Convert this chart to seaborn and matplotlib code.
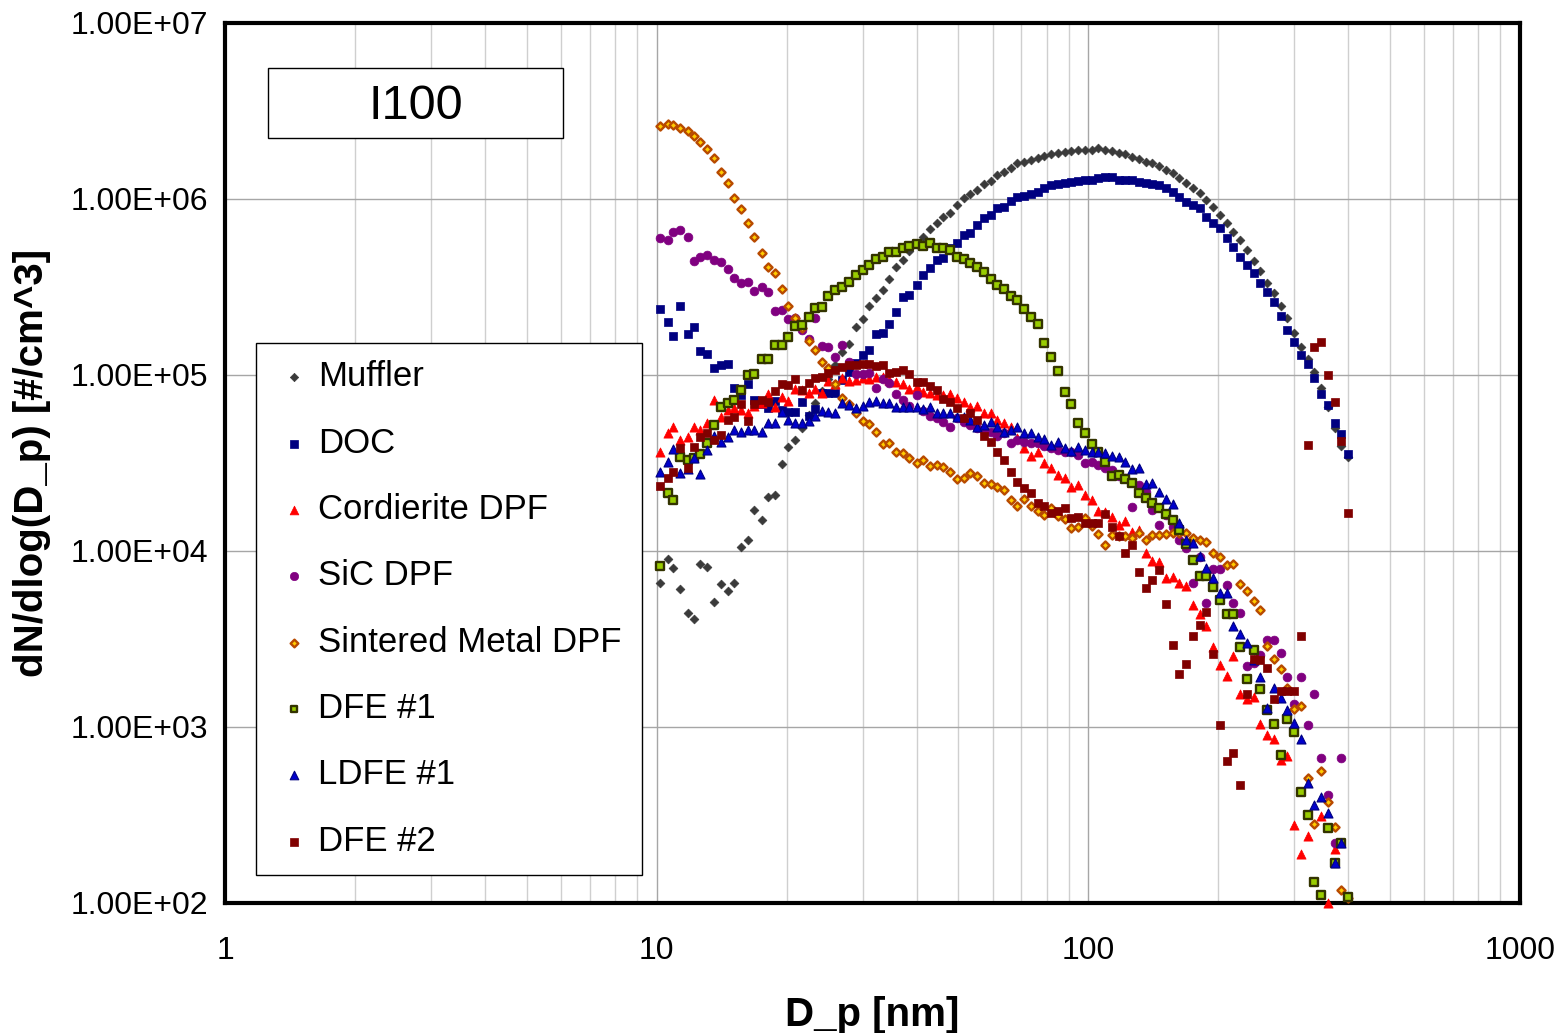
import numpy as np
import pandas as pd
import matplotlib
matplotlib.use("Agg")
import matplotlib.pyplot as plt
import seaborn as sns
from matplotlib.ticker import FixedLocator, FixedFormatter, LogLocator, NullFormatter, NullLocator
from matplotlib.patches import Rectangle

nan = np.nan

# Particle mobility diameter bins [nm]
diameters = [10.2, 10.6, 10.9, 11.3, 11.8, 12.2, 12.6, 13.1, 13.6, 14.1,
             14.6, 15.1, 15.7, 16.3, 16.8, 17.5, 18.1, 18.8, 19.5, 20.2,
             20.9, 21.7, 22.5, 23.3, 24.1, 25.0, 25.9, 26.9, 27.9, 28.9,
             30.0, 31.1, 32.2, 33.4, 34.6, 35.9, 37.2, 38.5, 40.0, 41.4,
             42.9, 44.5, 46.1, 47.8, 49.6, 51.4, 53.3, 55.2, 57.3, 59.4,
             61.5, 63.8, 66.1, 68.5, 71.0, 73.7, 76.4, 79.1, 82.0, 85.1,
             88.2, 91.4, 94.7, 98.2, 101.8, 105.5, 109.4, 113.4, 117.6, 121.9,
             126.3, 131.0, 135.8, 140.7, 145.9, 151.2, 156.8, 162.5, 168.5, 174.7,
             181.1, 187.7, 194.6, 201.7, 209.1, 216.7, 224.7, 232.9, 241.4, 250.3,
             259.5, 269.0, 278.8, 289.0, 299.6, 310.6, 322.0, 333.8, 346.0, 358.7,
             371.8, 385.4, 399.5]

muffler = [6.6e3, 9.0e3, 8.0e3, 6.1e3, 4.46e3, 4.12e3, 8.4e3, 8.1e3, 5.1e3, 6.5e3,
           5.9e3, 6.6e3, 1.05e4, 1.16e4, 1.71e4, 1.51e4, 2.03e4, 2.08e4, 3.11e4, 3.92e4,
           4.28e4, 5.0e4, 5.9e4, 6.9e4, 8.1e4, 9.5e4, 1.14e5, 1.35e5, 1.51e5, 1.88e5,
           2.07e5, 2.47e5, 2.73e5, 3.04e5, 3.5e5, 4.1e5, 4.5e5, 5.07e5, 5.55e5, 6.05e5,
           6.73e5, 7.33e5, 7.94e5, 8.36e5, 9.25e5, 1.01e6, 1.07e6, 1.12e6, 1.22e6, 1.27e6,
           1.37e6, 1.43e6, 1.51e6, 1.6e6, 1.63e6, 1.67e6, 1.7e6, 1.76e6, 1.8e6, 1.83e6,
           1.86e6, 1.88e6, 1.9e6, 1.91e6, 1.91e6, 1.94e6, 1.91e6, 1.88e6, 1.83e6, 1.8e6,
           1.74e6, 1.68e6, 1.63e6, 1.6e6, 1.53e6, 1.46e6, 1.4e6, 1.31e6, 1.23e6, 1.15e6,
           1.08e6, 9.86e5, 9.0e5, 8.1e5, 7.3e5, 6.5e5, 5.85e5, 5.13e5, 4.46e5, 3.91e5,
           3.34e5, 2.94e5, 2.47e5, 2.1e5, 1.74e5, 1.45e5, 1.23e5, 1.04e5, 8.4e4, 6.6e4,
           4.98e4, 3.95e4, 3.4e4]

doc = [2.37e5, 2.01e5, 1.67e5, 2.47e5, 1.7e5, 1.88e5, 1.37e5, 1.32e5, 1.09e5, 1.14e5,
       1.16e5, 8.4e4, 7.7e4, 8.9e4, 7.2e4, 6.8e4, 6.5e4, 7.1e4, 6.3e4, 6.2e4,
       6.2e4, 7.05e4, 5.85e4, 6.4e4, 7.9e4, 7.9e4, 7.9e4, 9.4e4, 1.04e5, 1.17e5,
       1.3e5, 1.39e5, 1.71e5, 1.74e5, 1.95e5, 2.29e5, 2.76e5, 2.85e5, 3.25e5, 3.7e5,
       4.04e5, 4.5e5, 4.6e5, 5.25e5, 5.6e5, 6.24e5, 6.43e5, 7.1e5, 7.76e5, 8.1e5,
       8.85e5, 9.0e5, 9.8e5, 1.03e6, 1.04e6, 1.07e6, 1.1e6, 1.16e6, 1.2e6, 1.22e6,
       1.23e6, 1.25e6, 1.27e6, 1.28e6, 1.29e6, 1.31e6, 1.34e6, 1.33e6, 1.29e6, 1.28e6,
       1.28e6, 1.25e6, 1.23e6, 1.22e6, 1.2e6, 1.15e6, 1.1e6, 1.03e6, 9.66e5, 9.25e5,
       8.85e5, 7.9e5, 7.33e5, 6.8e5, 5.98e5, 5.32e5, 4.66e5, 4.22e5, 3.81e5, 3.34e5,
       2.95e5, 2.61e5, 2.17e5, 1.8e5, 1.55e5, 1.3e5, 1.16e5, 9.6e4, 7.8e4, 6.75e4,
       5.36e4, 4.62e4, 3.56e4]

cordierite_dpf = [3.67e4, 4.7e4, 5.08e4, 4.28e4, 4.46e4, 5.05e4, 4.87e4, 5.36e4, 7.2e4, 5.75e4,
                  6.3e4, 6.47e4, 6.3e4, 6.05e4, 6.67e4, 6.9e4, 7.8e4, 6.55e4, 7.53e4, 7.15e4,
                  8.28e4, 8.2e4, 7.94e4, 8.3e4, 7.94e4, 9.3e4, 8.9e4, 9.58e4, 9.3e4, 9.4e4,
                  9.58e4, 9.46e4, 9.78e4, 9.7e4, 9.4e4, 9.16e4, 8.9e4, 8.3e4, 8.5e4, 8.04e4,
                  7.9e4, 7.7e4, 7.7e4, 7.8e4, 7.38e4, 7.05e4, 6.6e4, 6.67e4, 6.1e4, 6.1e4,
                  5.55e4, 5.32e4, 5.08e4, 4.39e4, 3.84e4, 3.45e4, 3.64e4, 3.18e4, 2.95e4, 2.7e4,
                  2.59e4, 2.3e4, 2.37e4, 2.08e4, 1.96e4, 1.68e4, 1.67e4, 1.56e4, 1.4e4, 1.49e4,
                  1.28e4, 1.32e4, 9.7e3, 8.8e3, 8.7e3, 7.0e3, 7.1e3, 6.55e3, 6.3e3, 4.93e3,
                  4.38e3, 3.75e3, 2.85e3, 2.25e3, 1.95e3, 2.52e3, 1.55e3, 1.44e3, 1.48e3, 1.04e3,
                  901, 851, 650, 684, 277, 190, 240, nan, 311, 100,
                  203, nan, nan]

sic_dpf = [6.03e5, 5.85e5, 6.52e5, 6.67e5, 6.05e5, 4.46e5, 4.7e5, 4.79e5, 4.5e5, 4.4e5,
           4.02e5, 3.54e5, 3.32e5, 3.36e5, 3.0e5, 3.18e5, 2.97e5, 2.32e5, 2.34e5, 2.09e5,
           2.11e5, 1.8e5, 1.61e5, 2.12e5, 1.47e5, 1.44e5, 1.27e5, 1.48e5, 1.19e5, 1.01e5,
           1.01e5, 1.03e5, 8.4e4, 9.46e4, 8.97e4, 7.75e4, 7.2e4, 6.67e4, 7.65e4, 6.22e4,
           5.85e4, 5.7e4, 5.4e4, 5.04e4, 5.68e4, 5.4e4, 5.2e4, 5.0e4, 4.9e4, 4.75e4,
           4.5e4, 4.67e4, 4.09e4, 4.28e4, 4.17e4, 4.12e4, 4.09e4, 3.95e4, 3.83e4, 3.75e4,
           3.65e4, 3.66e4, 3.5e4, 3.18e4, 3.2e4, 3.08e4, 2.96e4, 2.89e4, 2.67e4, 2.6e4,
           1.77e4, 2.37e4, 2.16e4, 1.71e4, 1.41e4, 1.6e4, 1.37e4, 1.15e4, 1.04e4, 6.6e3,
           9.3e3, 5.05e3, 7.87e3, 7.87e3, 6.4e3, 5.05e3, 4.43e3, 2.22e3, 2.3e3, 2.57e3,
           3.12e3, 3.12e3, 2.62e3, 1.92e3, 1.35e3, 1.92e3, 1.03e3, 1.55e3, 664, 411,
           220, 670, nan]

sintered_metal_dpf = [2.61e6, 2.67e6, 2.63e6, 2.54e6, 2.43e6, 2.29e6, 2.1e6, 1.93e6, 1.72e6, 1.42e6,
                      1.24e6, 1.01e6, 8.8e5, 7.3e5, 6.1e5, 4.95e5, 4.12e5, 3.78e5, 3.08e5, 2.47e5,
                      2.1e5, 1.84e5, 1.57e5, 1.39e5, 1.19e5, 1.09e5, 8.9e4, 7.4e4, 6.8e4, 6.1e4,
                      5.5e4, 5.27e4, 4.72e4, 4.05e4, 4.12e4, 3.65e4, 3.62e4, 3.37e4, 3.18e4, 3.29e4,
                      3.04e4, 3.07e4, 3.01e4, 2.82e4, 2.55e4, 2.59e4, 2.78e4, 2.67e4, 2.45e4, 2.4e4,
                      2.3e4, 2.22e4, 1.95e4, 1.8e4, 1.97e4, 1.79e4, 1.69e4, 1.6e4, 1.75e4, 1.58e4,
                      1.52e4, 1.35e4, 1.37e4, 1.55e4, 1.39e4, 1.25e4, 1.08e4, 1.23e4, 1.21e4, 1.21e4,
                      1.18e4, 1.26e4, 1.15e4, 1.23e4, 1.24e4, 1.25e4, 1.26e4, 1.27e4, 1.27e4, 1.18e4,
                      1.16e4, 1.13e4, 9.8e3, 9.2e3, 8.3e3, 8.4e3, 6.5e3, 5.9e3, 5.2e3, 4.6e3,
                      2.9e3, 2.45e3, 2.14e3, 1.66e3, 1.26e3, 1.32e3, 512, 281, 562, 377,
                      272, 119, 107]

dfe_1 = [8.2e3, 2.13e4, 1.95e4, 3.44e4, 3.29e4, 3.38e4, 3.56e4, 4.12e4, 5.2e4, 6.55e4,
         6.9e4, 7.2e4, 8.2e4, 1.0e5, 1.01e5, 1.23e5, 1.23e5, 1.48e5, 1.48e5, 1.64e5,
         1.9e5, 1.92e5, 2.14e5, 2.41e5, 2.44e5, 2.81e5, 3.04e5, 3.15e5, 3.36e5, 3.7e5,
         3.95e5, 4.22e5, 4.56e5, 4.67e5, 5.02e5, 5.02e5, 5.25e5, 5.43e5, 5.55e5, 5.43e5,
         5.6e5, 5.25e5, 5.25e5, 5.13e5, 4.7e5, 4.54e5, 4.31e5, 4.1e5, 3.87e5, 3.51e5,
         3.24e5, 3.07e5, 2.81e5, 2.67e5, 2.36e5, 2.14e5, 1.95e5, 1.52e5, 1.27e5, 1.06e5,
         8.04e4, 6.84e4, 5.32e4, 4.67e4, 4.08e4, 3.66e4, 3.21e4, 2.67e4, 2.69e4, 2.55e4,
         2.43e4, 2.13e4, 2.0e4, 1.88e4, 1.75e4, 1.62e4, 1.5e4, 1.31e4, 1.09e4, 8.9e3,
         7.2e3, 7.2e3, 6.27e3, 5.27e3, 4.4e3, 4.4e3, 2.86e3, 1.87e3, 2.74e3, 1.64e3,
         1.25e3, 1.04e3, 696, 1.11e3, 937, 428, 315, 132, 111, 266,
         169, 220, 108]

ldfe_1 = [2.82e4, 3.21e4, 3.78e4, 2.77e4, 2.91e4, 3.36e4, 2.74e4, 3.75e4, 4.5e4, 4.18e4,
          4.43e4, 4.87e4, 4.76e4, 4.87e4, 4.87e4, 4.76e4, 5.36e4, 5.36e4, 6.2e4, 5.55e4,
          5.32e4, 5.32e4, 5.5e4, 5.85e4, 6.27e4, 6.2e4, 6.1e4, 6.97e4, 6.76e4, 6.47e4,
          6.67e4, 7.05e4, 7.15e4, 6.9e4, 6.9e4, 6.6e4, 6.55e4, 6.6e4, 6.6e4, 6.38e4,
          6.55e4, 6.05e4, 6.1e4, 6.05e4, 5.75e4, 5.75e4, 5.55e4, 5.08e4, 5.2e4, 5.4e4,
          5.08e4, 4.76e4, 4.87e4, 5.08e4, 4.7e4, 4.67e4, 4.46e4, 4.31e4, 4.0e4, 4.18e4,
          3.84e4, 3.72e4, 3.88e4, 3.75e4, 3.66e4, 3.66e4, 3.62e4, 3.47e4, 3.44e4, 3.21e4,
          2.91e4, 2.95e4, 2.4e4, 2.43e4, 2.17e4, 1.97e4, 1.85e4, 1.44e4, 1.15e4, 1.11e4,
          9.4e3, 8.0e3, 7.0e3, 5.75e3, 5.75e3, 3.75e3, 3.37e3, 3.0e3, 2.4e3, 1.92e3,
          1.28e3, 1.67e3, 1.46e3, 1.25e3, 1.05e3, 859, 479, 360, 399, 326,
          169, 220, nan]

dfe_2 = [2.34e4, 2.59e4, 2.82e4, 3.84e4, 2.95e4, 3.88e4, 4.43e4, 4.67e4, 4.28e4, 4.56e4,
         5.55e4, 5.75e4, 6.84e4, 5.5e4, 6.84e4, 7.2e4, 7.05e4, 8.15e4, 8.9e4, 8.77e4,
         9.46e4, 8.2e4, 9.04e4, 9.66e4, 9.78e4, 1.02e5, 1.07e5, 1.11e5, 1.14e5, 1.14e5,
         1.16e5, 1.16e5, 1.12e5, 1.14e5, 1.03e5, 1.04e5, 1.07e5, 1.01e5, 9.16e4, 9.16e4,
         8.67e4, 8.2e4, 7.28e4, 7.05e4, 6.47e4, 5.68e4, 6.1e4, 5.55e4, 4.5e4, 4.18e4,
         3.64e4, 3.29e4, 2.82e4, 2.48e4, 2.27e4, 2.13e4, 1.87e4, 1.8e4, 1.64e4, 1.69e4,
         1.75e4, 1.55e4, 1.56e4, 1.45e4, 1.45e4, 1.45e4, 1.63e4, 1.37e4, 1.22e4, 9.8e3,
         1.08e4, 7.6e3, 6.2e3, 6.84e3, 7.8e3, 5.0e3, 2.92e3, 2.01e3, 2.29e3, 3.29e3,
         3.78e3, 4.52e3, 2.6e3, 1.03e3, 640, 709, 468, 1.55e3, 2.45e3, 2.4e3,
         2.16e3, 1.44e3, 1.6e3, 1.6e3, 1.6e3, 3.29e3, 4.0e4, 1.44e5, 1.53e5, 1.0e5,
         7.05e4, 4.2e4, 1.65e4]

series_names = ["Muffler", "DOC", "Cordierite DPF", "SiC DPF",
                "Sintered Metal DPF", "DFE #1", "LDFE #1", "DFE #2"]
series_values = [muffler, doc, cordierite_dpf, sic_dpf,
                 sintered_metal_dpf, dfe_1, ldfe_1, dfe_2]

x_ticks = [1, 10, 100, 1000]
x_tick_labels = ["1", "10", "100", "1000"]
y_ticks = [1e2, 1e3, 1e4, 1e5, 1e6, 1e7]
y_tick_labels = ["1.00E+02", "1.00E+03", "1.00E+04", "1.00E+05", "1.00E+06", "1.00E+07"]

frames = []
for name, vals in zip(series_names, series_values):
    frames.append(pd.DataFrame({"Dp": diameters, "dN": vals, "series": name}))
df = pd.concat(frames, ignore_index=True)

styles = {
    "Muffler": dict(marker="D", color="#3a3a3a", edgecolor="#3a3a3a", s=20, linewidth=0.5),
    "DOC": dict(marker="s", color="#000080", edgecolor="#000080", s=38, linewidth=0.5),
    "Cordierite DPF": dict(marker="^", color="#FF0000", edgecolor="#FF0000", s=44, linewidth=0.5),
    "SiC DPF": dict(marker="o", color="#800080", edgecolor="#800080", s=40, linewidth=0.5),
    "Sintered Metal DPF": dict(marker="D", color="#FFCC00", edgecolor="#B84A00", s=17, linewidth=1.7),
    "DFE #1": dict(marker="s", color="#99CC00", edgecolor="#333300", s=28, linewidth=1.7),
    "LDFE #1": dict(marker="^", color="#0000CC", edgecolor="#000080", s=42, linewidth=0.8),
    "DFE #2": dict(marker="s", color="#800000", edgecolor="#800000", s=38, linewidth=0.5),
}

sns.set_theme(style="white")
plt.rcParams['font.family'] = ['Liberation Sans', 'DejaVu Sans']
plt.rcParams['text.color'] = 'black'
plt.rcParams['axes.labelcolor'] = 'black'
plt.rcParams['xtick.color'] = 'black'
plt.rcParams['ytick.color'] = 'black'

fig = plt.figure(figsize=(15.56, 10.33), dpi=100)
ax = fig.add_axes([225 / 1556, 1 - 903 / 1033, 1295 / 1556, 880 / 1033])
ax.set_xscale("log")
ax.set_yscale("log")

for k, name in enumerate(series_names):
    sub = df[df["series"] == name].dropna()
    sns.scatterplot(data=sub, x="Dp", y="dN", ax=ax, label=name,
                    clip_on=False, zorder=3 + k, **styles[name])

ax.set_xlim(1, 1000)
ax.set_ylim(1e2, 1e7)

ax.xaxis.set_major_locator(FixedLocator(x_ticks))
ax.xaxis.set_major_formatter(FixedFormatter(x_tick_labels))
ax.xaxis.set_minor_locator(LogLocator(base=10, subs=np.arange(2, 10)))
ax.xaxis.set_minor_formatter(NullFormatter())
ax.yaxis.set_major_locator(FixedLocator(y_ticks))
ax.yaxis.set_major_formatter(FixedFormatter(y_tick_labels))
ax.yaxis.set_minor_locator(NullLocator())

ax.set_axisbelow(True)
ax.grid(which="major", axis="both", color="#A6A6A6", linewidth=1.0)
ax.grid(which="minor", axis="x", color="#CFCFCF", linewidth=1.0)

for sp in ax.spines.values():
    sp.set_color("black")
    sp.set_linewidth(3)
    sp.set_visible(True)

ax.tick_params(axis="both", which="major", direction="out", length=7, width=1,
               color="black", labelsize=23, labelcolor="black")
ax.tick_params(axis="y", which="major", pad=5)
ax.tick_params(axis="x", which="major", pad=17)
ax.tick_params(axis="x", which="minor", length=0)

ax.set_xlabel("D_p [nm]", fontsize=29, fontweight="bold", color="black")
ax.set_ylabel("dN/dlog(D_p) [#/cm^3]", fontsize=29, fontweight="bold", color="black")
ax.xaxis.set_label_coords(0.5, -0.106)
ax.yaxis.set_label_coords(-0.134, 0.5)

leg = ax.legend(loc="lower left", bbox_to_anchor=(0.0239, 0.0318, 0.298, 0.6032),
                mode="expand", borderaxespad=0, fontsize=25, frameon=True,
                fancybox=False, framealpha=1, edgecolor="black",
                borderpad=0.5, labelspacing=0.96, handlelength=1.2,
                handletextpad=0.1, markerscale=0.95)
leg.get_frame().set_linewidth(1.0)
for t in leg.get_texts():
    t.set_color("black")

ax.add_patch(Rectangle((0.0332, 0.8693), 0.2278, 0.0796, transform=ax.transAxes,
                       facecolor="white", edgecolor="black", linewidth=1.0, zorder=10))
ax.text(0.147, 0.905, "I100", transform=ax.transAxes, fontsize=35,
        ha="center", va="center", zorder=11, color="black")

fig.savefig("out.png", dpi=100)
